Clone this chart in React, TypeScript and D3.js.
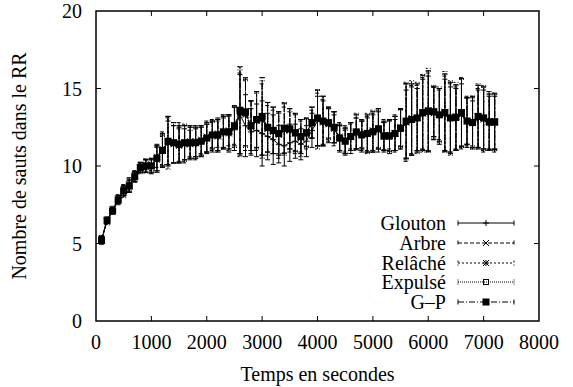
import React from "react";
import * as d3 from "d3";

const times: number[] = d3.range(100, 7300, 100);

const gpMean = [5.2,6.5,7.1,7.8,8.4,8.7,9.3,9.9,10.0,10.0, 10.5,11.0,11.6,11.5,11.4,11.5,11.5,11.5,11.6,11.8, 12.0,12.0,12.2,12.2,12.6,13.6,13.5,12.6,13.0,13.2, 12.5,12.3,12.1,12.45,12.4,12.15,11.9,12.15,12.8,13.1, 12.9,12.8,12.5,11.8,11.6,11.9,12.2,12.0,12.1,12.2, 12.4,11.95,11.95,12.1,12.45,12.9,13.0,13.1,13.45,13.55, 13.5,13.3,13.45,13.1,13.15,13.45,12.9,12.8,13.2,13.1, 12.85,12.85];
const gpErr = [0.2,0.15,0.15,0.2,0.3,0.4,0.3,0.3,0.4,0.4, 0.8,1.0,1.6,1.3,1.2,1.1,1.0,1.0,0.9,0.9, 0.9,1.0,1.0,1.1,1.3,2.8,2.2,1.6,1.8,2.5, 1.6,1.5,1.4,1.6,1.3,1.2,1.1,0.9,1.0,1.8, 1.6,1.0,1.0,0.8,0.8,0.9,1.1,0.9,1.2,1.3, 1.3,0.9,1.0,1.1,1.2,2.4,2.3,2.2,2.4,2.6, 1.6,1.7,2.5,2.3,2.1,2.2,1.5,1.6,2.0,2.0, 1.8,1.8];

const glMean = [5.2,6.5,7.1,7.8,8.4,8.7,9.3,9.9,10.0,10.0, 10.5,11.0,11.5,11.4,11.4,11.4,11.5,11.5,11.6,11.8, 11.9,12.0,12.1,12.1,12.4,13.3,12.6,12.2,12.3,12.1, 11.9,11.7,11.4,11.3,11.5,11.6,11.4,11.6,12.3,12.9, 12.8,12.6,12.4,11.8,11.6,11.8,12.1,11.9,12.0,12.1, 12.3,11.9,11.9,12.0,12.4,12.7,12.9,13.0,13.3,13.4, 13.4,13.2,13.3,13.0,13.0,13.3,12.8,12.7,13.0,13.0, 12.8,12.8];
const glErr = [0.25,0.2,0.2,0.3,0.35,0.4,0.35,0.3,0.4,0.5, 0.9,1.1,1.4,1.2,1.1,1.0,1.1,0.9,1.0,1.0, 1.0,1.1,1.0,1.2,1.4,2.6,2.0,1.5,1.7,2.1, 1.5,1.6,1.2,1.3,1.2,1.1,1.0,1.0,1.1,1.6, 1.4,1.1,0.9,0.9,0.9,1.0,1.0,1.0,1.1,1.2, 1.2,1.0,1.1,1.0,1.3,2.2,2.2,2.0,2.3,2.4, 1.7,1.8,2.3,2.1,2.0,2.0,1.6,1.5,1.9,1.9, 1.7,1.7];

const arMean = [5.3,6.5,7.2,7.9,8.5,8.8,9.4,9.9,10.1,10.0, 10.6,11.1,11.6,11.4,11.5,11.4,11.6,11.5,11.7,11.9, 12.0,12.1,12.2,12.3,12.6,13.4,13.3,12.5,12.9,13.0, 12.4,12.2,12.0,12.3,12.3,12.1,11.9,12.1,12.7,13.0, 12.8,12.7,12.4,11.9,11.7,11.9,12.1,12.0,12.1,12.2, 12.3,12.0,12.0,12.1,12.4,12.8,13.0,13.1,13.4,13.5, 13.4,13.3,13.4,13.1,13.1,13.4,12.9,12.8,13.1,13.0, 12.9,12.8];
const arErr = [0.2,0.2,0.2,0.25,0.3,0.45,0.3,0.35,0.35,0.45, 0.7,1.1,1.5,1.2,1.3,1.2,1.0,1.1,0.9,1.0, 1.0,0.9,1.1,1.0,1.2,2.6,2.3,1.7,1.9,2.3, 1.5,1.4,1.5,1.5,1.4,1.3,1.0,1.0,0.9,1.7, 1.5,1.1,1.1,0.9,0.9,0.8,1.0,1.0,1.1,1.2, 1.4,1.0,0.9,1.2,1.3,2.5,2.2,2.1,2.3,2.5, 1.7,1.6,2.4,2.2,2.0,2.3,1.6,1.7,1.9,2.1, 1.9,1.9];

const reMean = [5.2,6.4,7.1,7.8,8.3,8.7,9.3,9.8,10.0,10.1, 10.4,11.0,11.5,11.5,11.3,11.5,11.4,11.6,11.6,11.8, 12.0,11.9,12.2,12.1,12.5,13.5,13.4,12.6,12.9,13.1, 12.4,12.3,12.1,12.4,12.3,12.2,11.8,12.2,12.8,13.0, 12.9,12.7,12.5,11.8,11.6,11.9,12.2,12.1,12.1,12.3, 12.4,11.9,12.0,12.1,12.5,12.9,13.1,13.1,13.4,13.6, 13.5,13.3,13.5,13.1,13.2,13.4,12.9,12.9,13.2,13.1, 12.9,12.9];
const reErr = [0.15,0.2,0.2,0.2,0.35,0.35,0.3,0.3,0.45,0.4, 0.8,0.9,1.7,1.3,1.1,1.2,0.9,1.0,1.0,0.9, 0.8,1.0,1.1,1.1,1.3,2.9,2.1,1.6,1.8,2.6, 1.7,1.5,1.3,1.7,1.2,1.2,1.2,0.9,1.0,1.9, 1.6,1.0,1.0,0.8,0.7,0.9,1.2,0.9,1.3,1.3, 1.2,0.9,1.0,1.1,1.2,2.5,2.4,2.3,2.5,2.7, 1.6,1.8,2.6,2.4,2.2,2.2,1.5,1.6,2.1,2.1, 1.9,1.8];

const exMean = [5.3,6.5,7.1,7.8,8.4,8.8,9.3,9.9,10.0,10.0, 10.5,11.0,11.6,11.5,11.4,11.5,11.5,11.5,11.6,11.8, 12.0,12.0,12.2,12.2,12.5,13.5,13.4,12.6,13.0,13.1, 12.5,12.3,12.1,12.4,12.4,12.1,11.9,12.1,12.8,13.1, 12.9,12.8,12.5,11.8,11.6,11.9,12.2,12.0,12.1,12.2, 12.4,11.9,11.9,12.1,12.4,12.9,13.0,13.1,13.4,13.5, 13.5,13.3,13.4,13.1,13.1,13.4,12.9,12.8,13.2,13.1, 12.8,12.8];
const exErr = [0.2,0.15,0.2,0.2,0.3,0.4,0.3,0.3,0.4,0.4, 0.8,1.0,1.6,1.3,1.2,1.1,1.0,1.0,0.9,0.9, 0.9,1.0,1.0,1.1,1.3,2.7,2.2,1.6,1.8,2.4, 1.6,1.5,1.4,1.6,1.3,1.2,1.1,0.9,1.0,1.8, 1.6,1.0,1.0,0.8,0.8,0.9,1.1,0.9,1.2,1.3, 1.3,0.9,1.0,1.1,1.2,2.4,2.3,2.2,2.4,2.6, 1.7,1.7,2.5,2.3,2.1,2.2,1.5,1.7,2.0,2.0, 1.8,1.8];

const seriesNames = ["Glouton", "Arbre", "Relâché", "Expulsé", "G\u2013P"];
const seriesMeans = [glMean, arMean, reMean, exMean, gpMean];
const seriesErrs = [glErr, arErr, reErr, exErr, gpErr];
const seriesMarkers = ["plus", "cross", "star", "openSquare", "filledSquare"];
const seriesDash = ["", "4,2", "2,2", "1,1", "6,2,1,2"];

const xTicks = [0, 1000, 2000, 3000, 4000, 5000, 6000, 7000, 8000];
const yTicks = [0, 5, 10, 15, 20];

const W = 573, H = 387;
const L = 96, R = 539, T = 11, B = 321;
const FONT = "'Liberation Serif', 'Times New Roman', serif";
const FS = 20;

function Marker({ type, x, y }: { type: string; x: number; y: number }) {
  const s = 3;
  if (type === "plus")
    return <path d={`M${x - s},${y}H${x + s}M${x},${y - s}V${y + s}`} stroke="#000" strokeWidth={1} fill="none" />;
  if (type === "cross")
    return <path d={`M${x - s},${y - s}L${x + s},${y + s}M${x - s},${y + s}L${x + s},${y - s}`} stroke="#000" strokeWidth={1} fill="none" />;
  if (type === "star")
    return <path d={`M${x - s},${y}H${x + s}M${x},${y - s}V${y + s}M${x - s},${y - s}L${x + s},${y + s}M${x - s},${y + s}L${x + s},${y - s}`} stroke="#000" strokeWidth={1} fill="none" />;
  if (type === "openSquare")
    return <rect x={x - 2.5} y={y - 2.5} width={5} height={5} stroke="#000" strokeWidth={1} fill="none" />;
  return <rect x={x - 3.5} y={y - 3.5} width={7} height={7} fill="#000" />;
}

export default function App() {
  const x = d3.scaleLinear().domain([0, 8000]).range([L, R]);
  const y = d3.scaleLinear().domain([0, 20]).range([B, T]);
  const line = d3.line<[number, number]>().x((d) => x(d[0])).y((d) => y(d[1]));
  const cap = 2.5;

  const legendY = [223, 243, 263, 282, 302];
  const lx0 = 458, lx1 = 514, lxm = 486;

  return (
    <svg width={W} height={H} style={{ position: "absolute", left: 0, top: 0, background: "#fff" }} fontFamily={FONT} fontSize={FS}>
      <rect x={0} y={0} width={W} height={H} fill="#fff" />
      {seriesMeans.map((means, si) => {
        const pts: [number, number][] = times.map((t, i) => [t, means[i]]);
        const errs = seriesErrs[si];
        const dash = seriesDash[si];
        return (
          <g key={si}>
            {times.map((t, i) => {
              const cx = x(t);
              const lo = y(means[i] - errs[i]);
              const hi = y(means[i] + errs[i]);
              return (
                <path key={i} d={`M${cx},${lo}V${hi}M${cx - cap},${lo}H${cx + cap}M${cx - cap},${hi}H${cx + cap}`}
                  stroke="#000" strokeWidth={1} fill="none" strokeDasharray={dash || undefined} />
              );
            })}
            <path d={line(pts) || ""} stroke="#000" strokeWidth={1} fill="none" strokeDasharray={dash || undefined} />
            {pts.map((p, i) => (
              <Marker key={i} type={seriesMarkers[si]} x={x(p[0])} y={y(p[1])} />
            ))}
          </g>
        );
      })}

      {/* frame */}
      <rect x={L} y={T} width={R - L} height={B - T} fill="none" stroke="#000" strokeWidth={1.5} />
      {xTicks.map((t) => (
        <g key={"x" + t}>
          {t > 0 && t < 8000 && (
            <path d={`M${x(t)},${B}V${B - 5}M${x(t)},${T}V${T + 5}`} stroke="#000" strokeWidth={1} />
          )}
          <text x={x(t)} y={349} textAnchor="middle">{t}</text>
        </g>
      ))}
      {yTicks.map((v) => (
        <g key={"y" + v}>
          {v > 0 && v < 20 && (
            <path d={`M${L},${y(v)}H${L + 5}M${R},${y(v)}H${R - 5}`} stroke="#000" strokeWidth={1} />
          )}
          <text x={82} y={y(v) + 7} textAnchor="end">{v}</text>
        </g>
      ))}
      <text x={(L + R) / 2} y={381} textAnchor="middle">Temps en secondes</text>
      <text transform={`translate(26,${(T + B) / 2}) rotate(-90)`} textAnchor="middle">Nombre de sauts dans le RR</text>

      {/* legend */}
      {seriesNames.map((name, si) => {
        const ly = legendY[si];
        const dash = seriesDash[si];
        return (
          <g key={"l" + si}>
            <text x={446} y={ly + 7} textAnchor="end">{name}</text>
            <path d={`M${lx0},${ly}H${lx1}M${lx0},${ly - cap}V${ly + cap}M${lx1},${ly - cap}V${ly + cap}`}
              stroke="#000" strokeWidth={1} fill="none" strokeDasharray={dash || undefined} />
            <Marker type={seriesMarkers[si]} x={lxm} y={ly} />
          </g>
        );
      })}
    </svg>
  );
}
